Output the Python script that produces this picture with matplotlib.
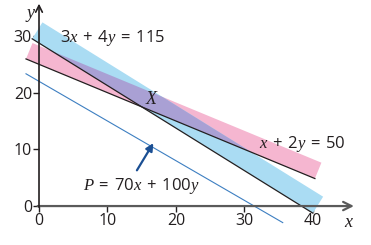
import matplotlib.pyplot as plt
import numpy as np
from matplotlib.patches import Polygon

# constraint lines a*x + b*y = c, drawn between x_start and x_end
blue_line = (3, 4, 115)
pink_line = (1, 2, 50)
profit_line = (70, 100, 2200)
blue_range = (-1.0, 40.0)
pink_range = (-1.9, 40.3)
profit_range = (-1.9, 35.6)

x_ticks = [0, 10, 20, 30, 40]
y_ticks = [0, 10, 20, 30]

plt.rcParams["font.family"] = "Open Sans"
plt.rcParams["mathtext.fontset"] = "custom"
plt.rcParams["mathtext.rm"] = "Open Sans"
plt.rcParams["mathtext.it"] = "Liberation Serif:italic"


def line_y(coef, x):
    a, b, c = coef
    return (c - a * np.asarray(x)) / b


def band(coef, xr, offset):
    x0, x1 = xr
    y0, y1 = line_y(coef, x0), line_y(coef, x1)
    dx, dy = offset
    return [(x0, y0), (x1, y1), (x1 + dx, y1 + dy), (x0 + dx, y0 + dy)]


fig = plt.figure(figsize=(3.71, 2.45), dpi=100)
ax = fig.add_axes([0.059, 0.078, 0.895, 0.914])
ax.set_xlim(-2.5, 46)
ax.set_ylim(-3.5, 36)

pink_verts = band(pink_line, pink_range, (0.95, 2.8))
blue_verts = band(blue_line, blue_range, (1.5, 2.9))
ax.add_patch(Polygon(pink_verts, closed=True, fc="#f5b6d0", ec="none", zorder=1))
blue_patch = Polygon(blue_verts, closed=True, fc="#aadcf3", ec="none", zorder=2)
ax.add_patch(blue_patch)
overlap = Polygon(pink_verts, closed=True, fc="#a9a0d4", ec="none", zorder=3)
ax.add_patch(overlap)
overlap.set_clip_path(blue_patch)

for coef, xr in [(blue_line, blue_range), (pink_line, pink_range)]:
    xs = np.array(xr)
    ax.plot(xs, line_y(coef, xs), color="#231f20", lw=0.9, zorder=4)
xs = np.array(profit_range)
ax.plot(xs, line_y(profit_line, xs), color="#3d7fc1", lw=0.8, zorder=4)

# axes drawn as arrows
for s in ax.spines.values():
    s.set_visible(False)
ax.spines["left"].set_position(("data", 0))
ax.spines["bottom"].set_position(("data", 0))
ax.annotate("", xy=(46, 0), xytext=(-0.2, 0),
            arrowprops=dict(arrowstyle="->", color="#5a5a5a", lw=1.6,
                            shrinkA=0, shrinkB=0, mutation_scale=15), zorder=5)
ax.annotate("", xy=(0, 35.7), xytext=(0, -0.2),
            arrowprops=dict(arrowstyle="->", color="#231f20", lw=1.2,
                            shrinkA=0, shrinkB=0, mutation_scale=12), zorder=5)

ax.set_xticks(x_ticks)
ax.set_yticks(y_ticks)
ax.tick_params(axis="x", direction="out", length=4, width=1, color="#231f20",
               labelsize=11.5, pad=1, labelcolor="#231f20")
ax.tick_params(axis="y", direction="out", length=4, width=1, color="#231f20",
               labelsize=11.5, pad=1, labelcolor="#231f20")

ax.text(44.5, -1.2, r"$x$", fontsize=13, ha="left", va="top", color="#231f20")
ax.text(-0.4, 35.3, r"$y$", fontsize=13, ha="right", va="top", color="#231f20")

ax.text(3.0, 29.6, r"$3x\;+\;4y\;=\;115$", fontsize=12, va="center", color="#231f20")
ax.text(32.2, 11.0, r"$x\;+\;2y\;=\;50$", fontsize=12, va="center", color="#231f20")
ax.text(6.4, 3.6, r"$P\;=\;70x\;+\;100y$", fontsize=12, va="center", color="#231f20")
ax.text(16.5, 18.9, r"$X$", fontsize=13, ha="center", va="center", color="#231f20", zorder=6)

ax.annotate("", xy=(16.7, 11.1), xytext=(14.3, 6.3),
            arrowprops=dict(arrowstyle="-|>", color="#1b4f93", lw=1.6,
                            shrinkA=0, shrinkB=0, mutation_scale=11), zorder=6)

fig.savefig("out.png", dpi=100)
